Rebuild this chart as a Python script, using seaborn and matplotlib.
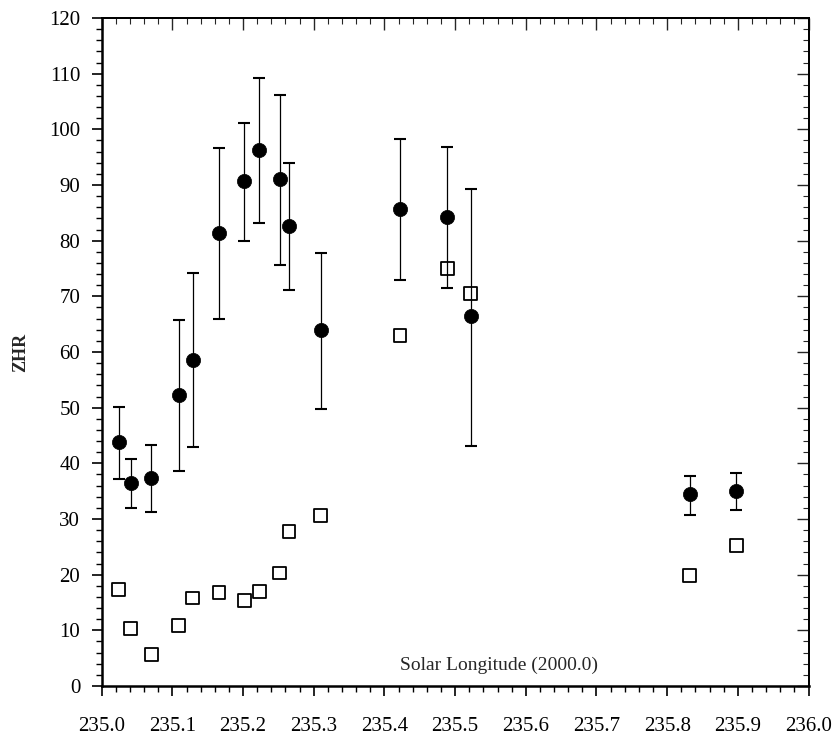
import numpy as np
import pandas as pd
import matplotlib
matplotlib.use("Agg")
import matplotlib.pyplot as plt
import seaborn as sns
from matplotlib.ticker import MultipleLocator, FormatStrFormatter

# solar longitude of each interval
lon = [235.024, 235.041, 235.070, 235.109, 235.129, 235.166, 235.202, 235.223,
       235.252, 235.265, 235.310, 235.422, 235.489, 235.522, 235.832, 235.898]
# ZHR (filled circles) with asymmetric error limits
zhr = [43.8, 36.5, 37.4, 52.3, 58.6, 81.4, 90.7, 96.2,
       91.0, 82.6, 64.0, 85.7, 84.3, 66.4, 34.5, 35.1]
zhr_hi = [50.1, 40.8, 43.3, 65.8, 74.2, 96.7, 101.2, 109.2,
          106.2, 94.0, 77.8, 98.2, 96.9, 89.3, 37.8, 38.3]
zhr_lo = [37.2, 32.0, 31.2, 38.7, 43.0, 66.0, 80.0, 83.1,
          75.7, 71.1, 49.8, 73.0, 71.5, 43.2, 30.8, 31.7]
# open squares
zhr2 = [17.4, 10.4, 5.7, 10.8, 15.8, 16.8, 15.4, 17.0,
        20.3, 27.7, 30.6, 62.9, 75.0, 70.5, 19.8, 25.2]

df = pd.DataFrame({"lon": lon, "zhr": zhr, "hi": zhr_hi, "lo": zhr_lo, "zhr2": zhr2})

sns.set_style("ticks")
plt.rcParams["font.family"] = ["Liberation Serif", "DejaVu Serif"]

fig = plt.figure(figsize=(8.37, 7.34), dpi=100)
ax = fig.add_axes([0.1215, 0.0654, 0.8445, 0.9101])

yerr = np.array([df["zhr"] - df["lo"], df["hi"] - df["zhr"]])
ax.errorbar(df["lon"], df["zhr"], yerr=yerr, fmt="none", ecolor="black",
            elinewidth=0.9, capsize=4.3, capthick=1.5, zorder=2)
sns.scatterplot(data=df, x="lon", y="zhr", ax=ax, marker="o", s=105,
                color="black", edgecolor="black", linewidth=0.5, zorder=3)
sns.scatterplot(data=df, x="lon", y="zhr2", ax=ax, marker="s", s=85,
                facecolor="none", edgecolor="black", linewidth=1.3, zorder=3)

ax.set_xlim(235.0, 236.0)
ax.set_ylim(0, 120)
ax.xaxis.set_major_locator(MultipleLocator(0.1))
ax.xaxis.set_minor_locator(MultipleLocator(0.02))
ax.yaxis.set_major_locator(MultipleLocator(10))
ax.yaxis.set_minor_locator(MultipleLocator(2))
ax.xaxis.set_major_formatter(FormatStrFormatter("%.1f"))

ax.tick_params(which="major", direction="out", length=7, width=1.2,
               labelsize=15, color="black", labelcolor="black")
ax.tick_params(which="minor", direction="out", length=4, width=1.0, color="black")
ax.tick_params(axis="x", which="major", pad=15)
ax.tick_params(axis="y", which="major", pad=8.5)

for s in ["left", "bottom", "top", "right"]:
    ax.spines[s].set_visible(True)
    ax.spines[s].set_color("black")
for s in ["left", "bottom"]:
    ax.spines[s].set_linewidth(1.8)
for s in ["top", "right"]:
    ax.spines[s].set_linewidth(1.4)

# inward ticks on top and right
top = ax.secondary_xaxis("top")
top.xaxis.set_major_locator(MultipleLocator(0.1))
top.xaxis.set_minor_locator(MultipleLocator(0.02))
top.tick_params(which="major", direction="in", length=8.5, width=1.0, labeltop=False)
top.tick_params(which="minor", direction="in", length=4.3, width=0.8)
top.spines["top"].set_linewidth(1.4)
right = ax.secondary_yaxis("right")
right.yaxis.set_major_locator(MultipleLocator(10))
right.yaxis.set_minor_locator(MultipleLocator(2))
right.tick_params(which="major", direction="in", length=8.5, width=1.0, labelright=False)
right.tick_params(which="minor", direction="in", length=4.3, width=0.8)
right.spines["right"].set_linewidth(1.4)

ax.set_xlabel("")
ax.set_ylabel("")
ax.text(-0.114, 0.5, "ZHR", transform=ax.transAxes, rotation=90,
        ha="center", va="center", fontsize=13, fontweight="bold")
ax.text(0.702, 0.024, "Solar Longitude (2000.0)", transform=ax.transAxes,
        ha="right", va="baseline", fontsize=14)

fig.savefig("out.png", dpi=100)
